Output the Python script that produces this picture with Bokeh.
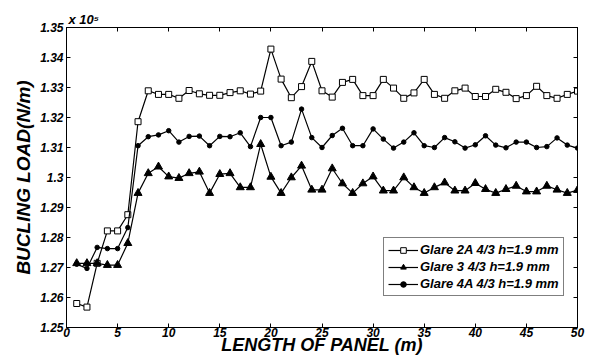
from bokeh.plotting import figure
from bokeh.models import (LinearAxis, FixedTicker, CustomJSTickFormatter, Title,
                          Legend, LegendItem, Range1d)
from bokeh.embed import file_html
from bokeh.resources import INLINE

# Panel length (m)
length = list(range(1, 51))

# Buckling load, in units of 1e5 N/m
glare_2a = [1.2580, 1.2568, 1.2714, 1.2822, 1.2822, 1.2876, 1.3186, 1.3289, 1.3277, 1.3277,
            1.3264, 1.3290, 1.3279, 1.3274, 1.3274, 1.3283, 1.3289, 1.3278, 1.3288, 1.3428,
            1.3328, 1.3266, 1.3303, 1.3387, 1.3289, 1.3268, 1.3317, 1.3327, 1.3273, 1.3273,
            1.3327, 1.3298, 1.3264, 1.3282, 1.3327, 1.3277, 1.3264, 1.3289, 1.3298, 1.3270,
            1.3270, 1.3294, 1.3284, 1.3263, 1.3273, 1.3304, 1.3273, 1.3264, 1.3277, 1.3288]

glare_3 = [1.2714, 1.2714, 1.2714, 1.2708, 1.2708, 1.2781, 1.2948, 1.3014, 1.3036, 1.3003,
           1.2998, 1.3014, 1.3019, 1.2948, 1.3011, 1.3014, 1.2967, 1.2967, 1.3111, 1.3002,
           1.2948, 1.3000, 1.3039, 1.2959, 1.2959, 1.3030, 1.2980, 1.2948, 1.2980, 1.3003,
           1.2956, 1.2956, 1.3000, 1.2967, 1.2948, 1.2967, 1.2983, 1.2956, 1.2956, 1.2981,
           1.2961, 1.2948, 1.2961, 1.2972, 1.2953, 1.2953, 1.2972, 1.2959, 1.2948, 1.2958]

glare_4a = [1.2711, 1.2697, 1.2767, 1.2763, 1.2763, 1.2833, 1.3106, 1.3136, 1.3142, 1.3156,
            1.3118, 1.3137, 1.3138, 1.3106, 1.3137, 1.3136, 1.3149, 1.3103, 1.3200, 1.3200,
            1.3106, 1.3118, 1.3228, 1.3133, 1.3100, 1.3140, 1.3164, 1.3106, 1.3106, 1.3162,
            1.3128, 1.3098, 1.3118, 1.3149, 1.3106, 1.3100, 1.3133, 1.3119, 1.3098, 1.3109,
            1.3139, 1.3108, 1.3099, 1.3118, 1.3118, 1.3100, 1.3103, 1.3132, 1.3108, 1.3098]

labels = ["Glare 2A 4/3 h=1.9 mm", "Glare 3 4/3 h=1.9 mm", "Glare 4A 4/3 h=1.9 mm"]
x_ticks = [0, 5, 10, 15, 20, 25, 30, 35, 40, 45, 50]
y_ticks = [1.25, 1.26, 1.27, 1.28, 1.29, 1.30, 1.31, 1.32, 1.33, 1.34, 1.35]

FONT = "Liberation Sans"

p = figure(width=589, height=358, output_backend="svg", toolbar_location=None,
           x_range=Range1d(0, 50), y_range=Range1d(1.25, 1.35),
           min_border_left=66, min_border_right=12, min_border_top=27,
           min_border_bottom=31, background_fill_color="white",
           border_fill_color="white")
p.grid.visible = False
p.outline_line_color = "black"
p.outline_line_width = 1

p.title = Title(text="x 10\u2075", align="left", offset=2, standoff=2,
                text_font=FONT, text_font_style="bold italic",
                text_font_size="13px", text_color="black")

yfmt = CustomJSTickFormatter(code="return (Math.round(tick*100)/100).toString();")
blank = CustomJSTickFormatter(code="return '';")

def style_axis(ax):
    ax.axis_line_color = "black"
    ax.major_tick_in = 4
    ax.major_tick_out = 0
    ax.minor_tick_line_color = None
    ax.major_tick_line_color = "black"
    ax.major_label_text_font = FONT
    ax.major_label_text_font_style = "bold italic"
    ax.major_label_text_font_size = "12px"
    ax.major_label_text_color = "black"
    ax.axis_label_text_font = FONT
    ax.axis_label_text_font_style = "bold italic"
    ax.axis_label_text_color = "black"

xa = p.xaxis[0]
xa.ticker = FixedTicker(ticks=x_ticks)
style_axis(xa)
xa.major_label_standoff = 0
xa.axis_label = "LENGTH OF PANEL (m)"
xa.axis_label_text_font_size = "18px"
xa.axis_label_standoff = -5

ya = p.yaxis[0]
ya.ticker = FixedTicker(ticks=y_ticks)
ya.formatter = yfmt
style_axis(ya)
ya.major_label_standoff = 3
ya.axis_label = "BUCLING LOAD(N/m)"
ya.axis_label_text_font_size = "19px"
ya.axis_label_standoff = 3

top = LinearAxis(ticker=FixedTicker(ticks=x_ticks), formatter=blank)
style_axis(top)
top.major_label_standoff = 0
p.add_layout(top, "above")
right = LinearAxis(ticker=FixedTicker(ticks=y_ticks), formatter=blank)
style_axis(right)
right.major_label_standoff = 0
p.add_layout(right, "right")

l1 = p.line(length, glare_2a, line_color="black", line_width=1.2)
m1 = p.scatter(length, glare_2a, marker="square", size=6, fill_color="white",
               line_color="black", line_width=1)
l2 = p.line(length, glare_3, line_color="black", line_width=1.2)
m2 = p.scatter(length, glare_3, marker="triangle", size=8, fill_color="black",
               line_color="black")
l3 = p.line(length, glare_4a, line_color="black", line_width=1.2)
m3 = p.scatter(length, glare_4a, marker="circle", size=4.5, fill_color="black",
               line_color="black")

legend = Legend(items=[LegendItem(label=labels[0], renderers=[l1, m1]),
                       LegendItem(label=labels[1], renderers=[l2, m2]),
                       LegendItem(label=labels[2], renderers=[l3, m3])],
                location=(317, 31), orientation="vertical",
                label_text_font=FONT, label_text_font_style="bold italic",
                label_text_font_size="13px", label_text_color="black",
                glyph_width=30, glyph_height=14, label_height=14,
                label_standoff=2, spacing=2, padding=4, margin=0,
                border_line_color="black", border_line_width=1,
                background_fill_color="white", background_fill_alpha=1)
p.add_layout(legend)

open("out.html", "w").write(file_html(p, INLINE))
